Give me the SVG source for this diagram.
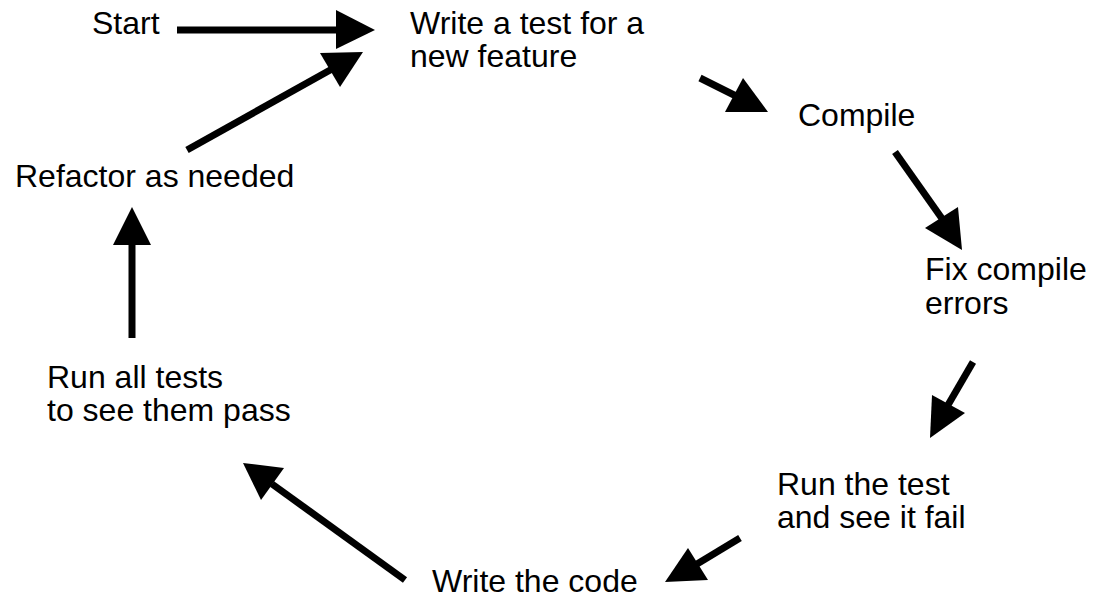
<svg xmlns="http://www.w3.org/2000/svg" width="1104" height="602" viewBox="0 0 1104 602">
<style>
text{font-family:"Liberation Sans",Arial,sans-serif;font-size:32px;fill:#000}
.sh{stroke:#000;stroke-width:7;fill:none}
.hd{fill:#000;stroke:none}
</style>
<rect width="1104" height="602" fill="#fff"/>
<g id="connectors">
<line class="sh" x1="177" y1="30" x2="338" y2="30"/>
<polygon class="hd" points="336,10 375,30 336,49"/>
<line class="sh" x1="187" y1="150" x2="332" y2="69"/>
<polygon class="hd" points="320,53 363,52 340,87"/>
<line class="sh" x1="700" y1="78" x2="736" y2="96"/>
<polygon class="hd" points="725,112 768,112 743,78"/>
<line class="sh" x1="895" y1="152" x2="943" y2="220"/>
<polygon class="hd" points="925,228 962,250 958,207"/>
<line class="sh" x1="973" y1="362" x2="948" y2="405"/>
<polygon class="hd" points="932,395 930,438 965,413"/>
<line class="sh" x1="740" y1="538" x2="697" y2="564"/>
<polygon class="hd" points="688,548 665,582 708,580"/>
<line class="sh" x1="405" y1="580" x2="272" y2="484"/>
<polygon class="hd" points="284,468 243,463 261,500"/>
<line class="sh" x1="132" y1="338" x2="132" y2="243"/>
<polygon class="hd" points="113,245 132,207 151,245"/>
</g>
<g id="start"><text x="92" y="34">Start</text></g>
<g id="write-test"><text x="410" y="34">Write a test for a</text><text x="410" y="67">new feature</text></g>
<g id="compile"><text x="798" y="126">Compile</text></g>
<g id="fix"><text x="925" y="280">Fix compile</text><text x="925" y="314">errors</text></g>
<g id="run-test"><text x="777" y="495">Run the test</text><text x="777" y="528">and see it fail</text></g>
<g id="write-code"><text x="432" y="592">Write the code</text></g>
<g id="run-all"><text x="47" y="388">Run all tests</text><text x="47" y="421">to see them pass</text></g>
<g id="refactor"><text x="15" y="187">Refactor as needed</text></g>
</svg>
